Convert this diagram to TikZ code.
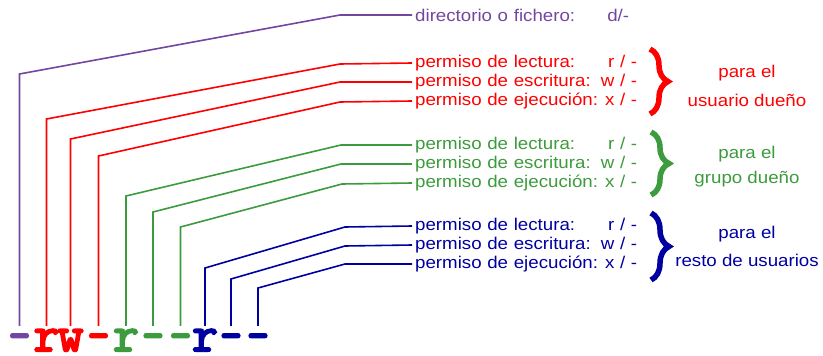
\documentclass[tikz,border=0pt]{standalone}
\usepackage{fontspec}
\usetikzlibrary{decorations.pathreplacing}
\newfontfamily\labfont[FakeStretch=1.1]{Liberation Sans}
\newfontfamily\codefont[FakeBold=4]{Latin Modern Mono}
\newfontfamily\dashfont[FakeBold=4, FakeStretch=0.85]{Latin Modern Mono}
\definecolor{cpurp}{RGB}{115,70,160}
\definecolor{cred}{RGB}{255,0,0}
\definecolor{cgreen}{RGB}{60,155,60}
\definecolor{cnavy}{RGB}{0,0,160}
\tikzset{
  lab/.style={font=\labfont\fontsize{17}{17}\selectfont, inner xsep=3pt, inner ysep=0pt, anchor=west},
  perm/.style={lab, text width=222pt},
  side/.style={font=\labfont\fontsize{17}{17}\selectfont, inner sep=0pt},
  chr/.style={font=\codefont\fontsize{50}{50}\selectfont, anchor=base, inner sep=0pt, text height=25pt, text depth=0pt},
  dsh/.style={chr, font=\dashfont\fontsize{50}{50}\selectfont},
  conn/.style={line width=1.6pt},
  bracestyle/.style={decorate, decoration={brace, amplitude=18pt}, line width=5.5pt}
}
\begin{document}
\begin{tikzpicture}[x=1pt,y=-1pt]
\useasboundingbox (0,0) rectangle (823,356);
% bottom string
\node[dsh, cpurp]  (c1)  at (19.5,351) {-};
\node[chr, cred]   (c2)  at (46.5,351) {r};
\node[chr, cred]   (c3)  at (70.5,351) {w};
\node[dsh, cred]   (c4)  at (98.5,351) {-};
\node[chr, cgreen] (c5)  at (126,351) {r};
\node[dsh, cgreen] (c6)  at (153,351) {-};
\node[dsh, cgreen] (c7)  at (180.5,351) {-};
\node[chr, cnavy]  (c8)  at (205,351) {r};
\node[dsh, cnavy]  (c9)  at (231,351) {-};
\node[dsh, cnavy]  (c10) at (258,351) {-};
% labels
\node[lab, cpurp, text width=214pt] (t0) at (412,15) {directorio o fichero:\hfill d/-};
\node[perm, cred] (t1) at (412,63) {permiso de lectura:\hfill r / -};
\node[perm, cred] (t2) at (412,82) {permiso de escritura:\hfill w / -};
\node[perm, cred] (t3) at (412,101) {permiso de ejecución:\hfill x / -};
\node[perm, cgreen] (t4) at (412,145) {permiso de lectura:\hfill r / -};
\node[perm, cgreen] (t5) at (412,164) {permiso de escritura:\hfill w / -};
\node[perm, cgreen] (t6) at (412,183) {permiso de ejecución:\hfill x / -};
\node[perm, cnavy] (t7) at (412,226) {permiso de lectura:\hfill r / -};
\node[perm, cnavy] (t8) at (412,245) {permiso de escritura:\hfill w / -};
\node[perm, cnavy] (t9) at (412,264) {permiso de ejecución:\hfill x / -};
% connectors
\draw[conn, cpurp] (c1.north) -- (c1.north |- 0,74) -- (340,15) -- (t0.west);
\draw[conn, cred] (c2.north) -- (c2.north |- 0,119) -- (340,64) -- (t1.west);
\draw[conn, cred] (c3.north) -- (c3.north |- 0,139) -- (340,82) -- (t2.west);
\draw[conn, cred] (c4.north) -- (c4.north |- 0,156) -- (340,102) -- (t3.west);
\draw[conn, cgreen] (c5.north) -- (c5.north |- 0,196) -- (341,145) -- (t4.west);
\draw[conn, cgreen] (c6.north) -- (c6.north |- 0,212) -- (341,164) -- (t5.west);
\draw[conn, cgreen] (c7.north) -- (c7.north |- 0,227) -- (342,184) -- (t6.west);
\draw[conn, cnavy] (c8.north) -- (c8.north |- 0,268) -- (345,227) -- (t7.west);
\draw[conn, cnavy] (c9.north) -- (c9.north |- 0,279) -- (345,246) -- (t8.west);
\draw[conn, cnavy] (c10.north) -- (c10.north |- 0,288) -- (345,264) -- (t9.west);
% braces
\draw[bracestyle, cred] (650,49) -- (650,114);
\draw[bracestyle, cgreen] (651,132) -- (651,195);
\draw[bracestyle, cnavy] (651,213) -- (651,280);
% side labels
\node[side, cred] (s1) at (747,73) {para el};
\node[side, cred] (s2) at (747,100) {usuario dueño};
\node[side, cgreen] (s3) at (747,154) {para el};
\node[side, cgreen] (s4) at (747,179) {grupo dueño};
\node[side, cnavy] (s5) at (747,234) {para el};
\node[side, cnavy] (s6) at (747,260) {resto de usuarios};
\end{tikzpicture}
\end{document}
